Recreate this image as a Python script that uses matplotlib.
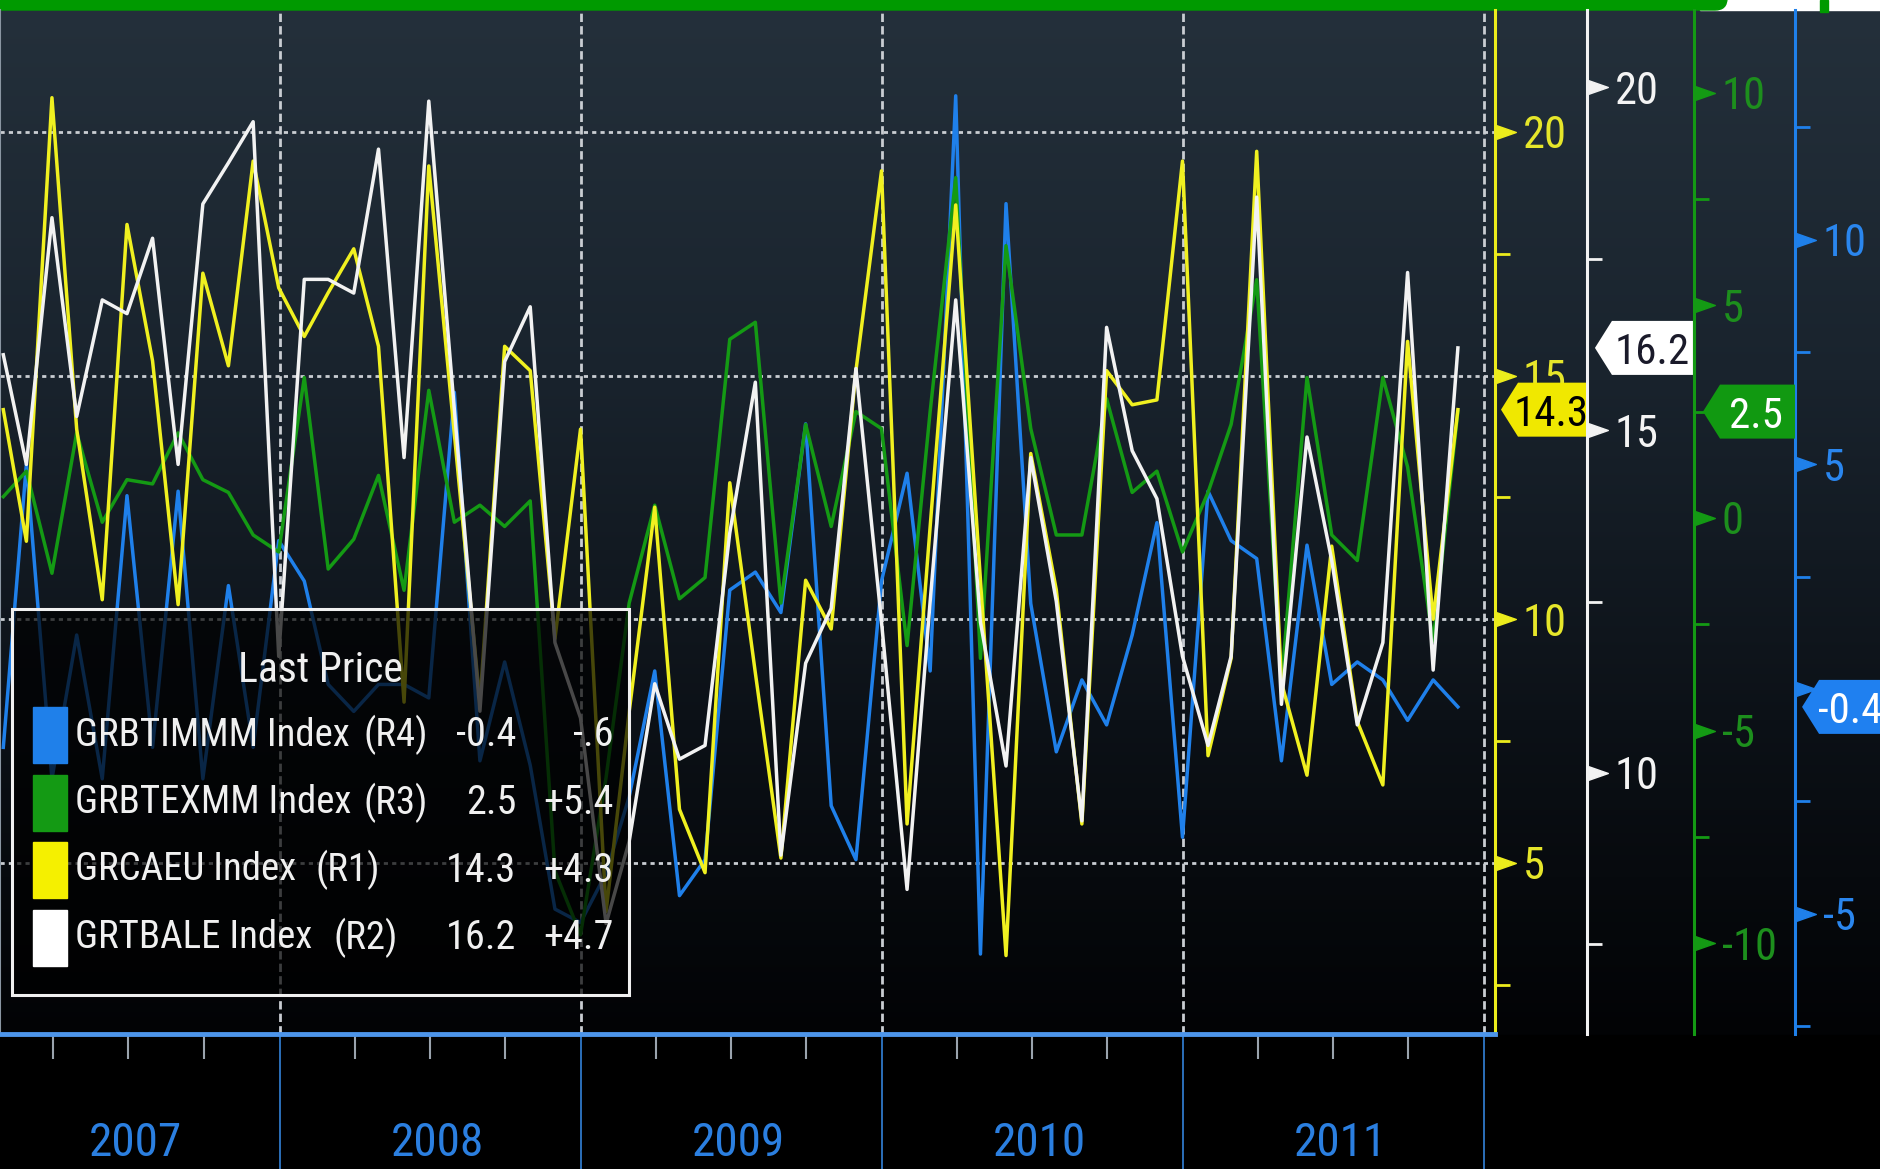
import numpy as np
import pandas as pd
import matplotlib
matplotlib.use('Agg')
import matplotlib.pyplot as plt
from matplotlib import transforms
from matplotlib.path import Path
from matplotlib.patches import Polygon, Rectangle, FancyBboxPatch

plt.rcParams['font.family'] = ['Roboto Condensed', 'Liberation Sans Narrow', 'Archivo Narrow',
                               'PT Sans Narrow', 'Liberation Sans', 'DejaVu Sans']
plt.rcParams['axes.unicode_minus'] = False

# monthly readings, month end, Jan 2007 .. Nov 2011
months = pd.date_range('2007-01-01', periods=59, freq='MS') + pd.offsets.MonthEnd(0)

# GRCAEU Index (R1, yellow)
grcaeu = [14.3, 11.6, 20.7, 13.9, 10.4, 18.1, 15.3, 10.3, 17.1, 15.2, 19.4, 16.8,
          15.8, 16.7, 17.6, 15.6, 8.3, 19.3, 13.8, 8.3, 15.6, 15.1, 9.6, 13.9,
          4.0, 8.1, 12.3, 6.1, 4.8, 12.8, 8.9, 5.1, 10.8, 9.8, 15.1, 19.2,
          5.8, 11.9, 18.5, 10.8, 3.1, 13.4, 10.6, 5.8, 15.1, 14.4, 14.5, 19.4,
          7.2, 9.2, 19.6, 8.7, 6.8, 11.5, 7.9, 6.6, 15.7, 10.0, 14.3]
# GRTBALE Index (R2, white)
grtbale = [16.1, 14.5, 18.1, 15.2, 16.9, 16.7, 17.8, 14.5, 18.3, 18.9, 19.5, 11.7,
           17.2, 17.2, 17.0, 19.1, 14.6, 19.8, 15.3, 10.9, 16.0, 16.8, 11.9, 10.8,
           7.8, 9.0, 11.3, 10.2, 10.4, 13.5, 15.7, 8.8, 11.6, 12.4, 15.9, 12.2,
           8.3, 12.5, 16.9, 12.2, 10.1, 14.6, 12.5, 9.3, 16.5, 14.7, 14.0, 11.7,
           10.4, 11.7, 18.4, 11.0, 14.9, 13.1, 10.7, 11.9, 17.3, 11.5, 16.2]
# GRBTEXMM Index (R3, green)
grbtexmm = [0.5, 1.1, -1.3, 2.0, -0.1, 0.9, 0.8, 2.0, 0.9, 0.6, -0.4, -0.8,
            3.3, -1.2, -0.5, 1.0, -1.7, 3.0, -0.1, 0.3, -0.2, 0.4, -8.3, -9.8,
            -6.1, -2.0, 0.3, -1.9, -1.4, 4.2, 4.6, -2.0, 2.2, -0.2, 2.5, 2.1,
            -3.0, 2.5, 8.0, -3.3, 6.4, 2.1, -0.4, -0.4, 2.8, 0.6, 1.1, -0.8,
            0.6, 2.2, 5.6, -3.9, 3.3, -0.4, -1.0, 3.3, 1.2, -2.9, 2.5]
# GRBTIMMM Index (R4, blue)
grbtimmm = [-1.3, 5.0, -2.0, 1.2, -2.0, 4.3, -1.3, 4.4, -2.0, 2.3, -1.3, 3.3,
            2.4, 0.1, -0.5, 0.1, 0.1, -0.2, 6.6, -1.6, 0.6, -1.7, -4.9, -5.2,
            -4.1, -2.4, 0.4, -4.6, -3.8, 2.2, 2.6, 1.7, 5.9, -2.6, -3.8, 2.4,
            4.8, 0.4, 13.2, -5.9, 10.8, 1.9, -1.4, 0.2, -0.8, 1.2, 3.7, -3.3,
            4.4, 3.3, 2.9, -1.6, 3.2, 0.1, 0.6, 0.2, -0.7, 0.2, -0.4]

legend_names = ['GRBTIMMM Index', 'GRBTEXMM Index', 'GRCAEU Index', 'GRTBALE Index']
legend_tags = ['(R4)', '(R3)', '(R1)', '(R2)']
legend_change = ['-.6', '+5.4', '+4.3', '+4.7']
years = [2007, 2008, 2009, 2010, 2011]

r1_major, r1_minor = [5, 10, 15, 20], [2.5, 7.5, 12.5, 17.5]
r2_major, r2_minor = [10, 15, 20], [7.5, 12.5, 17.5]
r3_major, r3_minor = [-10, -5, 0, 5, 10], [-7.5, -2.5, 2.5, 7.5]
r4_major, r4_minor = [-5, 0, 5, 10], [-7.5, -2.5, 2.5, 7.5, 12.5]

YEL, WHT, GRN, BLU = '#ecec1c', '#f2f2f2', '#149a14', '#1f80ea'

W, H = 1880, 1169
fig = plt.figure(figsize=(W / 100, H / 100), dpi=100, facecolor='black')

# background: dark gradient + top strip
bg = fig.add_axes([0, 0, 1, 1], zorder=-5)
bg.set_xlim(0, W)
bg.set_ylim(H, 0)
bg.axis('off')
rows = np.arange(H)
stops = [10, 380, 720, 1034]
cols = np.array([[0x24, 0x30, 0x3b], [0x19, 0x23, 0x2d], [0x0c, 0x11, 0x17], [0x02, 0x03, 0x05]]) / 255
grad = np.stack([np.interp(rows, stops, cols[:, c]) for c in range(3)], axis=-1)
grad[rows > 1034] = 0
bg.imshow(grad[:, None, :], extent=(0, W, H, 0), aspect='auto', interpolation='bilinear')
bg.add_patch(Rectangle((1700, 0), W - 1700, 10, color='white'))
bg.add_patch(FancyBboxPatch((-20, -20), 1747, 30, boxstyle='round,pad=0,rounding_size=12',
                            color='#009a00', mutation_aspect=1))
bg.add_patch(Rectangle((1820, 0), 8, 12, color='#009a00'))

ax = fig.add_axes([0, (H - 1034) / H, 1495 / W, 1024 / H])
ax.set_facecolor('none')
ax2 = ax.twinx()
ax3 = ax.twinx()
ax4 = ax.twinx()

tri = Path([(0, -0.35), (1, 0), (0, 0.35), (0, -0.35)],
           [Path.MOVETO, Path.LINETO, Path.LINETO, Path.CLOSEPOLY])

cfg = [(ax, 1.0, YEL, '#e6e62a', r1_major, r1_minor, (1.49, 22.5)),
       (ax2, 1.0615, WHT, '#f4f4f4', r2_major, r2_minor, (6.19, 21.13)),
       (ax3, 1.1331, GRN, '#1d8f1d', r3_major, r3_minor, (-12.13, 11.94)),
       (ax4, 1.2007, BLU, '#2a86ee', r4_major, r4_minor, (-7.68, 15.11))]

for a, pos, c, tc, major, minor, lim in cfg:
    for s in ('top', 'left', 'bottom'):
        a.spines[s].set_visible(False)
    a.spines['right'].set_position(('axes', pos))
    a.spines['right'].set_color(c)
    a.spines['right'].set_linewidth(2.2)
    a.yaxis.tick_right()
    a.set_yticks(major)
    a.set_yticks(minor, minor=True)
    # the blue zero label sits under the last-value badge
    a.set_yticklabels(['' if (a is ax4 and m == 0) else str(m) for m in major])
    a.tick_params(axis='y', which='major', length=0, pad=20, labelsize=32, labelcolor=tc)
    a.tick_params(axis='y', which='minor', length=11, width=2, color=c)
    a.plot([pos] * len(major), major, ls='none', marker=tri, ms=30, color=c,
           transform=a.get_yaxis_transform(), clip_on=False)
    a.set_ylim(*lim)

# x axis
ax.set_xlim(pd.Timestamp('2007-01-27'), pd.Timestamp('2012-01-14'))
year_starts = [pd.Timestamp(f'{y + 1}-01-01') for y in years]
quarters = [d for d in pd.date_range('2007-04-01', '2011-10-01', freq='QS') if d.month != 1]
ax.set_xticks(year_starts)
ax.set_xticks(quarters, minor=True)
ax.tick_params(axis='x', which='major', length=97, width=1.3, color='#2f78c8', labelbottom=False)
ax.tick_params(axis='x', which='minor', length=18, width=1.5, color='#9aa3ad')
ax.spines['bottom'].set_visible(True)
ax.spines['bottom'].set_color('#4d95ea')
ax.spines['bottom'].set_linewidth(3.5)
ax.spines['left'].set_visible(True)
ax.spines['left'].set_color('#8a96a2')
ax.spines['left'].set_linewidth(1.5)
for y in years:
    ax.text(pd.Timestamp(f'{y}-07-10'), -0.106, str(y), transform=ax.get_xaxis_transform(),
            ha='center', va='center', color='#2b7fe0', fontsize=34, clip_on=False)

ax.grid(axis='y', which='major', color='#c9cdd2', ls=(0, (1.5, 1.5)), lw=2.0)
ax.grid(axis='x', which='major', color='#c9cdd2', ls=(0, (3.0, 1.5)), lw=2.0)

# series, drawn on main axes with each series' own y scale
series = [(grbtimmm, ax4, BLU), (grbtexmm, ax3, GRN), (grcaeu, ax, '#f0f020'), (grtbale, ax2, WHT)]
for i, (vals, a, c) in enumerate(series):
    ax.plot(months, vals, color=c, lw=2.5, transform=a.transData, zorder=3 + i)


# last value badges
def badge(a, pos, value, face, tcol, tip, body, right, tx):
    base = transforms.blended_transform_factory(ax.transAxes, a.transData)
    tr = transforms.Affine2D() + transforms.ScaledTranslation(pos, value, base)
    h = 27
    poly = Polygon([(tip, 0), (body, h), (right, h), (right, -h), (body, -h)], closed=True,
                   transform=tr, facecolor=face, edgecolor='none', zorder=6)
    fig.add_artist(poly)
    fig.text(tx, 0, f'{value:.1f}', transform=tr, ha='center', va='center_baseline',
             color=tcol, fontsize=31, zorder=7)


badge(ax, 1.0, grcaeu[-1], '#f0e800', 'black', 6, 23, 91, 56)
badge(ax2, 1.0615, grtbale[-1], 'white', '#1a1a2a', 8, 25, 106, 65)
badge(ax3, 1.1331, grbtexmm[-1], '#119911', 'white', 9, 26, 101, 62)
badge(ax4, 1.2007, grbtimmm[-1], '#1f80f0', 'white', 7, 24, 100, 55)

# legend box, pixel coordinates from the top-left corner
P = transforms.Affine2D().scale(1 / W, -1 / H).translate(0, 1) + fig.transFigure
fig.add_artist(Rectangle((12, 609), 617, 386, transform=P, facecolor=(0, 0, 0, 0.7),
                         edgecolor='#f0f0f0', lw=2.2, zorder=5))
fig.text(320, 670, 'Last Price', transform=P, ha='center', va='center', color='#f0f0f0',
         fontsize=30, zorder=7)
legend_vals = [grbtimmm[-1], grbtexmm[-1], grcaeu[-1], grtbale[-1]]
legend_cols = [BLU, GRN, '#f5f000', 'white']
tag_x = [363, 363, 316, 333]
for k in range(4):
    yc = 735 + 67.5 * k
    fig.add_artist(Rectangle((33, yc - 28), 34, 56, transform=P, color=legend_cols[k], zorder=6))
    fig.text(75, yc, legend_names[k], transform=P, ha='left', va='center', color='#f0f0f0',
             fontsize=28, zorder=7)
    fig.text(tag_x[k], yc, legend_tags[k], transform=P, ha='left', va='center', color='#f0f0f0',
             fontsize=28, zorder=7)
    fig.text(516, yc, f'{legend_vals[k]:.1f}', transform=P, ha='right', va='center',
             color='#f0f0f0', fontsize=29, zorder=7)
    fig.text(614, yc, legend_change[k], transform=P, ha='right', va='center',
             color='#f0f0f0', fontsize=29, zorder=7)

fig.savefig('out.png', dpi=100, facecolor='black')
